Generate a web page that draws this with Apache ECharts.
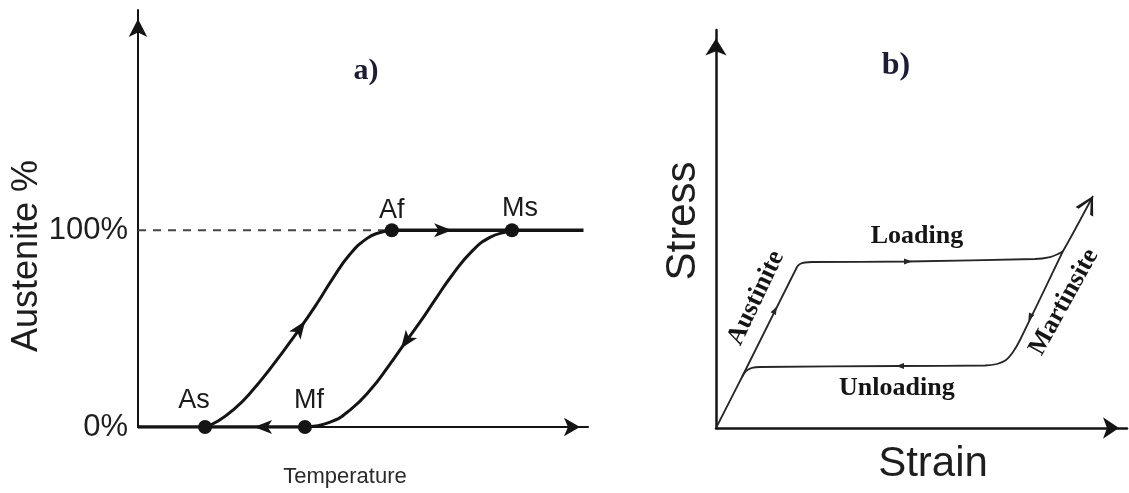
<!DOCTYPE html>
<html><head><meta charset="utf-8">
<script src="https://cdn.jsdelivr.net/npm/echarts@6/dist/echarts.min.js"></script>
<style>html,body{margin:0;padding:0;background:#fff}#c{width:1129px;height:493px}</style>
</head><body><div id="c"></div>
<script>
// ---------- Panel a) Austenite % vs Temperature ----------
const yTickValuesA = [0, 100];
const yTickLabelsA = ['0%', '100%'];
const heatingCurve = [[14.9,0],[17.8,3.0],[21.6,9.6],[24.9,17.2],[29.3,29.4],[36.0,50.2],[39.8,62.9],[43.3,75.6],[47.1,87.8],[50.9,95.9],[53.8,98.9],[56.4,100]];
const coolingCurve = [[37.1,0],[42.7,2.5],[47.1,8.6],[51.6,18.8],[56.0,32.0],[59.3,42.7],[62.7,53.4],[66.0,64.6],[70.0,77.8],[74.4,89.8],[78.2,96.4],[82.0,99.4],[83.1,100]];
const fullAusteniteLine = [[56.4,100],[99.0,100]];
const fullAusteniteGuide = [[0,100],[56.4,100]];
const zeroAusteniteLine = [[0,0],[37.1,0]];
const transitionNames = ['As','Mf','Af','Ms'];
const transitionPoints = [[14.9,0],[37.1,0],[56.4,100],[83.1,100]];
// arrow positions [x, y] and travel direction in degrees
const arrowsA = [[36.0,50.2,54.5],[59.6,43.6,234],[67.8,100,0],[27.8,0,180]];

// ---------- Panel b) Stress vs Strain ----------
const loadingPath = [[0,0],[6.33,12.81],[19.71,40.45],[20.44,41.21],[21.65,41.58],[23.36,41.71],[46.72,41.83],[77.62,42.46],[81.27,42.96],[83.21,43.72],[84.43,44.47],[91.73,58.29]];
const unloadingPath = [[84.43,44.47],[73.97,22.11],[72.26,19.10],[70.56,17.09],[68.37,16.08],[65.45,15.70],[44.77,15.58],[10.71,15.33],[8.76,15.08],[7.30,14.32],[6.33,12.81]];
const endArrowB = [[90.68,56.31,61.4]];
const arrowsB = [[14.36,29.65,63.4],[46.72,41.83,0],[44.77,15.58,180],[76.40,27.81,244.2]];
const phaseLabels = ['Loading','Unloading','Austinite','Martinsite'];
const phaseLabelPos = [[48.9,48.2,0],[44.0,10.1,0],[9.73,32.66,64.5],[84.67,31.66,61]];

const SANS = 'Liberation Sans, Arial, sans-serif';
const SERIF = 'Liberation Serif, Times New Roman, serif';
const INK = '#141414';

const labelOffsets = {As:[-11,-6], Mf:[4,-6], Af:[0,1], Ms:[8,-1]};
const notchArrow = 'path://M0,0 L12,5 L0,10 L3,5 Z';
const chevron = 'path://M0,0 L10,5 L0,10 L0,8.3 L7.4,5 L0,1.7 Z';
const tri = 'path://M0,0 L10,5 L0,10 Z';

const chart = echarts.init(document.getElementById('c'), null, {renderer:'canvas'});
chart.setOption({
  backgroundColor:'#ffffff',
  animation:false,
  graphic:[
    {type:'text', x:366, y:71, style:{text:'a)', font:'bold 30px '+SERIF, fill:'#1c1c36', align:'center', verticalAlign:'middle', textAlign:'center', textVerticalAlign:'middle'}},
    {type:'text', x:896, y:66, style:{text:'b)', font:'bold 32px '+SERIF, fill:'#1c1c36', align:'center', verticalAlign:'middle', textAlign:'center', textVerticalAlign:'middle'}}
  ],
  grid:[
    {left:138, top:10, width:450, height:417},
    {left:716, top:30, width:411, height:398}
  ],
  xAxis:[
    {gridIndex:0, type:'value', min:0, max:100,
     name:'Temperature', nameLocation:'middle', nameGap:39,
     nameTextStyle:{fontFamily:SANS, fontSize:22, color:'#2a2a2a', padding:[0,36,0,0]},
     axisLine:{show:true, symbol:['none','arrow'], symbolSize:[14,16], symbolOffset:[0,-8], lineStyle:{color:INK, width:2}},
     axisTick:{show:false}, axisLabel:{show:false}, splitLine:{show:false}},
    {gridIndex:1, type:'value', min:0, max:100,
     name:'Strain', nameLocation:'middle', nameGap:15,
     nameTextStyle:{fontFamily:SANS, fontSize:42, color:'#1e1e1e', padding:[0,0,0,23]},
     axisLine:{show:true, symbol:['none','arrow'], symbolSize:[16,16], symbolOffset:[0,-8], lineStyle:{color:INK, width:2.5}},
     axisTick:{show:false}, axisLabel:{show:false}, splitLine:{show:false}}
  ],
  yAxis:[
    {gridIndex:0, type:'value', min:0, max:212,
     name:'Austenite %', nameLocation:'middle', nameRotate:90, nameGap:92,
     nameTextStyle:{fontFamily:SANS, fontSize:36, color:'#1e1e1e', padding:[0,75,0,0]},
     axisLine:{show:true, symbol:['none','arrow'], symbolSize:[14,18], symbolOffset:[0,-9], lineStyle:{color:INK, width:2}},
     axisTick:{show:false, customValues:yTickValuesA},
     axisLabel:{show:true, customValues:yTickValuesA, margin:10,
       formatter:function(v){const i=yTickValuesA.indexOf(v); return i>=0?yTickLabelsA[i]:'';},
       fontFamily:SANS, fontSize:31, color:'#1e1e1e'},
     splitLine:{show:false}},
    {gridIndex:1, type:'value', min:0, max:100,
     name:'Stress', nameLocation:'middle', nameRotate:90, nameGap:12,
     nameTextStyle:{fontFamily:SANS, fontSize:42, color:'#1e1e1e', padding:[0,0,0,16]},
     axisLine:{show:true, symbol:['none','arrow'], symbolSize:[16,17], symbolOffset:[0,-8.5], lineStyle:{color:INK, width:2.5}},
     axisTick:{show:false}, axisLabel:{show:false}, splitLine:{show:false}}
  ],
  series:[
    {name:'guide', type:'line', xAxisIndex:0, yAxisIndex:0, data:fullAusteniteGuide, symbol:'none',
     lineStyle:{color:'#444', width:2, type:[8,7]}, z:1},
    {name:'100% austenite', type:'line', xAxisIndex:0, yAxisIndex:0, data:fullAusteniteLine, symbol:'none',
     lineStyle:{color:INK, width:3.5}, z:2},
    {name:'0% austenite', type:'line', xAxisIndex:0, yAxisIndex:0, data:zeroAusteniteLine, symbol:'none',
     lineStyle:{color:INK, width:3.5}, z:2},
    {name:'heating', type:'line', xAxisIndex:0, yAxisIndex:0, data:heatingCurve, symbol:'none', smooth:true,
     lineStyle:{color:INK, width:3}, z:2},
    {name:'cooling', type:'line', xAxisIndex:0, yAxisIndex:0, data:coolingCurve, symbol:'none', smooth:true,
     lineStyle:{color:INK, width:3}, z:2},
    {name:'transitions', type:'scatter', xAxisIndex:0, yAxisIndex:0, symbolSize:14, itemStyle:{color:INK, opacity:1}, z:4,
     data:transitionNames.map(function(n,i){return {name:n, value:transitionPoints[i], label:{offset:labelOffsets[n]}};}),
     label:{show:true, position:'top', distance:0, formatter:'{b}', fontFamily:SANS, fontSize:27, color:'#1a1a1a'}},
    {name:'arrowsA', type:'scatter', xAxisIndex:0, yAxisIndex:0, symbol:notchArrow, symbolSize:[18,14], itemStyle:{color:INK, opacity:1}, z:5,
     data:arrowsA.map(function(a){return {value:[a[0],a[1]], symbolRotate:a[2]};})},

    {name:'loading', type:'line', xAxisIndex:1, yAxisIndex:1, data:loadingPath, symbol:'none', smooth:0.2,
     lineStyle:{color:'#262626', width:1.8}, z:2},
    {name:'unloading', type:'line', xAxisIndex:1, yAxisIndex:1, data:unloadingPath, symbol:'none', smooth:0.2,
     lineStyle:{color:'#262626', width:1.8}, z:2},
    {name:'endArrow', type:'scatter', xAxisIndex:1, yAxisIndex:1, symbol:chevron, symbolSize:[18,20], itemStyle:{color:'#1a1a1a', opacity:1}, z:5,
     data:endArrowB.map(function(a){return {value:[a[0],a[1]], symbolRotate:a[2]};})},
    {name:'arrowsB', type:'scatter', xAxisIndex:1, yAxisIndex:1, symbol:tri, symbolSize:[8,6], itemStyle:{color:'#262626', opacity:1}, z:5,
     data:arrowsB.map(function(a){return {value:[a[0],a[1]], symbolRotate:a[2]};})},
    {name:'phaseText', type:'scatter', xAxisIndex:1, yAxisIndex:1, symbolSize:1, itemStyle:{color:'rgba(255,255,255,0)', opacity:1}, z:6,
     data:phaseLabels.map(function(n,i){const p=phaseLabelPos[i]; return {name:n, value:[p[0],p[1]], label:{rotate:p[2]}};}),
     label:{show:true, position:'inside', formatter:'{b}', fontFamily:SERIF, fontSize:26, fontWeight:'bold', color:'#151515'}}
  ]
});
</script>
</body></html>
